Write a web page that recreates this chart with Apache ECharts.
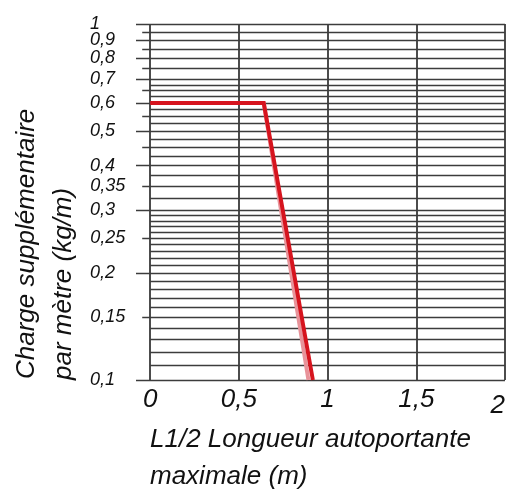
<!DOCTYPE html>
<html>
<head>
<meta charset="utf-8">
<style>
  html, body { margin: 0; padding: 0; background: #fff; }
  #chart { width: 508px; height: 493px; }
</style>
<script src="https://cdn.jsdelivr.net/npm/echarts@6/dist/echarts.min.js"></script>
</head>
<body>
<div id="chart"></div>
<script>
// data
var xTicks = [0, 0.5, 1, 1.5, 2];
var loadLimit = [[0, 0.6], [0.64, 0.6], [0.917, 0.1]];
var loadShadow = [[0.64, 0.6], [0.892, 0.1]];
var yLabels = [0.1, 0.15, 0.2, 0.25, 0.3, 0.35, 0.4, 0.5, 0.6, 0.7, 0.8, 0.9, 1];
var longLines = [0.1, 0.2, 0.3, 0.4, 0.5, 0.6, 0.7, 0.8, 0.9, 1];
var halfLines = [0.15, 0.25, 0.35, 0.45, 0.55, 0.65, 0.75, 0.85, 0.95];
var gridValues = [
  0.1, 0.11, 0.12, 0.13, 0.14, 0.15, 0.16, 0.17, 0.18, 0.19, 0.2,
  0.21, 0.22, 0.23, 0.24, 0.25, 0.26, 0.27, 0.28, 0.29, 0.3,
  0.325, 0.35, 0.375, 0.4, 0.425, 0.45, 0.475, 0.5,
  0.525, 0.55, 0.575, 0.6, 0.625, 0.65, 0.675, 0.7,
  0.75, 0.8, 0.85, 0.9, 0.95, 1
];

var FONT = '"Liberation Sans", Arial, sans-serif';
var xMin = -0.08;
var halfStart = -0.045;

function comma(v) { return String(v).replace('.', ','); }

var gridLines = gridValues.map(function (v) {
  var start = 0;
  if (longLines.indexOf(v) >= 0) start = xMin;
  else if (halfLines.indexOf(v) >= 0) start = halfStart;
  var from = { coord: [start, v] };
  if (yLabels.indexOf(v) >= 0) {
    from.label = {
      show: true,
      distance: start === xMin ? 10 : 16,
      formatter: '{a|' + comma(v) + '}'
    };
  }
  return [from, { coord: [2, v] }];
});

var chart = echarts.init(document.getElementById('chart'));
chart.setOption({
  animation: false,
  grid: { left: 136, right: 2, top: 24, bottom: 113 },
  xAxis: {
    type: 'value',
    min: xMin,
    max: 2,
    axisLine: { show: false },
    axisTick: { show: false, customValues: xTicks },
    splitLine: { show: true, lineStyle: { color: '#111', width: 1.5 } },
    axisLabel: {
      customValues: xTicks,
      margin: 7,
      alignMaxLabel: 'right',
      fontFamily: FONT,
      fontStyle: 'italic',
      fontSize: 26,
      color: '#111',
      formatter: function (v) { return v === 2 ? '{d|2}' : comma(v); },
      rich: { d: { fontFamily: FONT, fontStyle: 'italic', fontSize: 26, color: '#111', padding: [6, 0, 0, 0] } }
    }
  },
  yAxis: {
    type: 'log',
    logBase: 10,
    min: 0.1,
    max: 1,
    axisLine: { show: false },
    axisTick: { show: false },
    axisLabel: { show: false },
    splitLine: { show: false }
  },
  graphic: [
    { type: 'text', x: 27, y: 379, rotation: Math.PI / 2,
      style: { text: 'Charge supplémentaire', fontFamily: FONT, fontStyle: 'italic', fontSize: 26, fill: '#111', align: 'left', verticalAlign: 'middle' } },
    { type: 'text', x: 64, y: 380, rotation: Math.PI / 2,
      style: { text: 'par mètre (kg/m)', fontFamily: FONT, fontStyle: 'italic', fontSize: 26, fill: '#111', align: 'left', verticalAlign: 'middle' } },
    { type: 'text', x: 150, y: 440,
      style: { text: 'L1/2 Longueur autoportante', fontFamily: FONT, fontStyle: 'italic', fontSize: 26, fill: '#111', align: 'left', verticalAlign: 'middle' } },
    { type: 'text', x: 150, y: 477,
      style: { text: 'maximale (m)', fontFamily: FONT, fontStyle: 'italic', fontSize: 26, fill: '#111', align: 'left', verticalAlign: 'middle' } }
  ],
  series: [
    {
      type: 'line',
      name: 'grille',
      data: [],
      silent: true,
      z: 1,
      markLine: {
        silent: true,
        z: 1,
        symbol: ['none', 'none'],
        animation: false,
        lineStyle: { color: '#3c3c3c', width: 1.3, type: 'solid' },
        label: {
          show: false,
          position: 'start',
          distance: 10,
          fontFamily: FONT,
          fontStyle: 'italic',
          fontSize: 18,
          color: '#111',
          rich: { a: { width: 36, align: 'left', fontFamily: FONT, fontStyle: 'italic', fontSize: 18, color: '#111' } }
        },
        emphasis: { disabled: true },
        data: gridLines
      }
    },
    {
      type: 'line',
      name: 'ombre',
      data: loadShadow,
      z: 3,
      symbol: 'none',
      lineStyle: { color: '#e8939a', width: 4 }
    },
    {
      type: 'line',
      name: 'charge',
      data: loadLimit,
      z: 4,
      symbol: 'none',
      lineStyle: { color: '#d6141e', width: 4, join: 'miter' }
    }
  ]
});
</script>
</body>
</html>
